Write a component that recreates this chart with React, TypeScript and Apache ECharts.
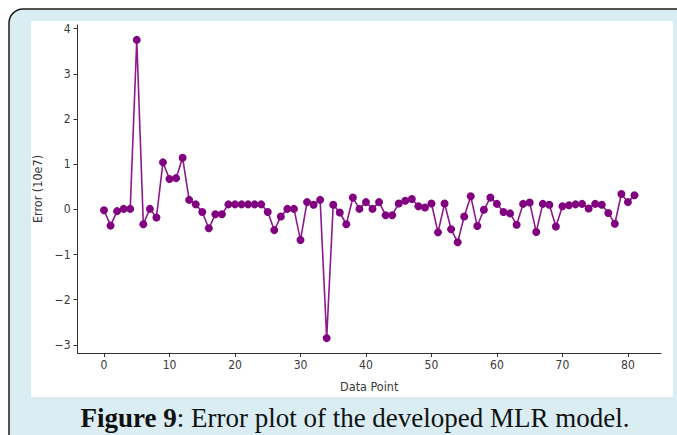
import React, { useEffect, useRef } from "react";
import * as echarts from "echarts";

const xTicks = [0, 10, 20, 30, 40, 50, 60, 70, 80];
const yTicks = [-3, -2, -1, 0, 1, 2, 3, 4];
const errors = [
  -0.02, -0.36, -0.04, 0.01, 0.01, 3.75, -0.33, 0.01, -0.18, 1.04,
  0.67, 0.69, 1.14, 0.21, 0.11, -0.06, -0.42, -0.11, -0.11, 0.11,
  0.11, 0.11, 0.11, 0.11, 0.11, -0.06, -0.46, -0.16, 0.01, 0.01,
  -0.68, 0.16, 0.1, 0.21, -2.85, 0.1, -0.07, -0.33, 0.26, 0.01,
  0.16, 0.01, 0.16, -0.13, -0.13, 0.13, 0.19, 0.23, 0.07, 0.04,
  0.13, -0.51, 0.13, -0.44, -0.73, -0.16, 0.29, -0.37, -0.01, 0.26,
  0.12, -0.06, -0.09, -0.34, 0.12, 0.15, -0.5, 0.12, 0.1, -0.38,
  0.07, 0.09, 0.11, 0.12, 0.02, 0.12, 0.1, -0.08, -0.32, 0.34,
  0.16, 0.31,
];
const captionBold = "Figure 9";
const captionRest = ": Error plot of the developed MLR model.";

const narrow = "'DejaVu Sans Condensed', 'Liberation Sans Narrow', 'DejaVu Sans', sans-serif";

export default function App() {
  const ref = useRef<HTMLDivElement>(null);
  useEffect(() => {
    if (!ref.current) return;
    const chart = echarts.init(ref.current, null, { renderer: "svg" });
    const fmt = (v: number) => (v < 0 ? "\u2212" + Math.abs(v) : String(v));
    const tickFont = { fontFamily: narrow, fontSize: 12, color: "#3a3a3a" };
    chart.setOption({
      animation: false,
      backgroundColor: "#ffffff",
      graphic: [
        {
          type: "rect",
          z: -10,
          silent: true,
          shape: { x: 9, y: 9, width: 720, height: 460, r: [14, 0, 0, 0] },
          style: { fill: "#d9edf2", stroke: "#1e1e1e", lineWidth: 1.5 },
        },
        {
          type: "rect",
          z: -9,
          silent: true,
          shape: { x: 31, y: 21, width: 642, height: 376 },
          style: { fill: "#ffffff" },
        },
        {
          type: "text",
          x: 355,
          y: 418,
          style: {
            text: "{b|" + captionBold + "}{r|" + captionRest + "}",
            align: "center",
            verticalAlign: "middle",
            rich: {
              b: { fontFamily: "Liberation Serif", fontWeight: "bold", fontSize: 27, fill: "#111" },
              r: { fontFamily: "Liberation Serif", fontSize: 27, fill: "#111" },
            },
          },
        },
      ],
      grid: { left: 77.5, right: 16, top: 25, bottom: 82 },
      xAxis: {
        type: "value",
        min: -4.05,
        max: 85.05,
        name: "Data Point",
        nameLocation: "middle",
        nameGap: 27,
        nameTextStyle: { fontFamily: narrow, fontSize: 12.5, color: "#3a3a3a" },
        axisLine: { show: true, onZero: false, lineStyle: { color: "#333", width: 1 } },
        axisTick: { show: true, length: 4, customValues: xTicks, lineStyle: { color: "#333" } },
        axisLabel: { customValues: xTicks, ...tickFont, margin: 6, formatter: fmt },
        splitLine: { show: false },
      },
      yAxis: {
        type: "value",
        min: -3.18,
        max: 4.08,
        name: "Error (10e7)",
        nameLocation: "middle",
        nameGap: 33,
        nameRotate: 90,
        nameTextStyle: { fontFamily: narrow, fontSize: 12.5, color: "#3a3a3a" },
        axisLine: { show: true, onZero: false, lineStyle: { color: "#333", width: 1 } },
        axisTick: { show: true, length: 4, customValues: yTicks, lineStyle: { color: "#333" } },
        axisLabel: { customValues: yTicks, ...tickFont, margin: 7, formatter: fmt },
        splitLine: { show: false },
      },
      series: [
        {
          type: "line",
          data: errors.map((v, i) => [i, v]),
          symbol: "circle",
          symbolSize: 8,
          lineStyle: { color: "#8b1a8b", width: 1.6 },
          itemStyle: { color: "#800080" },
        },
      ],
    });
    return () => chart.dispose();
  }, []);
  return (
    <div
      ref={ref}
      style={{ position: "fixed", left: 0, top: 0, width: 677, height: 435 }}
    />
  );
}
